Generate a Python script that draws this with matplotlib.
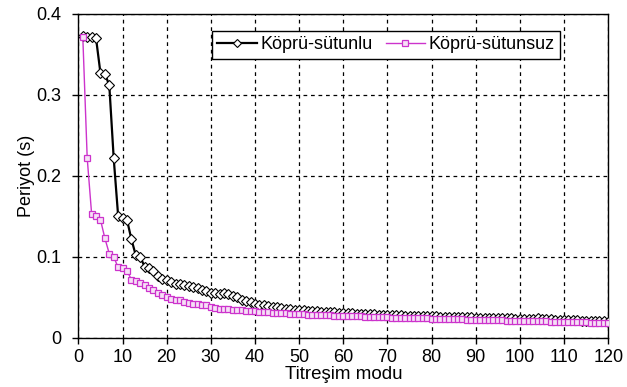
import matplotlib
matplotlib.use("Agg")
import matplotlib.pyplot as plt
import numpy as np

plt.rcParams['font.family'] = ['Liberation Sans', 'DejaVu Sans']

series_names = ["Köprü-sütunlu", "Köprü-sütunsuz"]

kopru_sutunlu = [
    0.373, 0.372, 0.372, 0.370, 0.327, 0.326, 0.312, 0.222, 0.151, 0.148,
    0.146, 0.122, 0.102, 0.100, 0.088, 0.086, 0.082, 0.076, 0.073, 0.071,
    0.069, 0.067, 0.066, 0.065, 0.064, 0.063, 0.061, 0.059, 0.058, 0.056,
    0.055, 0.054, 0.055, 0.054, 0.052, 0.050, 0.047, 0.045, 0.044, 0.042,
    0.041, 0.040, 0.039, 0.038, 0.0375, 0.037, 0.036, 0.0355, 0.035, 0.0346,
    0.034, 0.0336, 0.0332, 0.0328, 0.0325, 0.0322, 0.0318, 0.0315, 0.031, 0.0308,
    0.0305, 0.0302, 0.030, 0.0298, 0.0295, 0.0293, 0.029, 0.0288, 0.0286, 0.0284,
    0.0282, 0.028, 0.0278, 0.0276, 0.0275, 0.0273, 0.0272, 0.027, 0.0268, 0.0266,
    0.0265, 0.0263, 0.0262, 0.026, 0.0258, 0.0256, 0.0255, 0.0253, 0.0252, 0.025,
    0.0249, 0.0247, 0.0246, 0.0244, 0.0243, 0.0242, 0.024, 0.0239, 0.0238, 0.0236,
    0.0235, 0.0234, 0.0233, 0.0245, 0.0232, 0.023, 0.0228, 0.0226, 0.0224, 0.0222,
    0.022, 0.0218, 0.0216, 0.0214, 0.0212, 0.021, 0.0208, 0.0206, 0.0203, 0.020,
]

kopru_sutunsuz = [
    0.372, 0.222, 0.153, 0.150, 0.146, 0.123, 0.104, 0.100, 0.087, 0.086,
    0.083, 0.072, 0.070, 0.068, 0.065, 0.061, 0.059, 0.056, 0.053, 0.050,
    0.048, 0.047, 0.0465, 0.0445, 0.043, 0.042, 0.0415, 0.041, 0.040, 0.038,
    0.037, 0.036, 0.0358, 0.0355, 0.035, 0.0345, 0.034, 0.0335, 0.033, 0.0328,
    0.0325, 0.032, 0.0316, 0.0312, 0.031, 0.0306, 0.0303, 0.030, 0.0297, 0.0294,
    0.029, 0.0288, 0.0286, 0.0284, 0.0282, 0.028, 0.0278, 0.0276, 0.0274, 0.0272,
    0.027, 0.0268, 0.0266, 0.0264, 0.0262, 0.026, 0.0258, 0.0256, 0.0254, 0.0252,
    0.025, 0.0248, 0.0247, 0.0246, 0.0244, 0.0243, 0.0242, 0.024, 0.0239, 0.0238,
    0.0236, 0.0235, 0.0234, 0.0232, 0.0231, 0.023, 0.0228, 0.0226, 0.0224, 0.0222,
    0.022, 0.0219, 0.0218, 0.0217, 0.0216, 0.0215, 0.0214, 0.0212, 0.0211, 0.021,
    0.0208, 0.0207, 0.0206, 0.0204, 0.0203, 0.0202, 0.020, 0.0199, 0.0198, 0.0197,
    0.0196, 0.0194, 0.0193, 0.0192, 0.019, 0.0189, 0.0188, 0.0187, 0.0186, 0.0185,
]

modes = list(range(1, len(kopru_sutunlu) + 1))
x_ticks = list(range(0, 121, 10))
y_ticks = [0, 0.1, 0.2, 0.3, 0.4]
y_tick_labels = ["0", "0.1", "0.2", "0.3", "0.4"]

fig = plt.figure(figsize=(6.27, 3.87), dpi=100)
ax = fig.add_axes([0.125, 0.127, 0.845, 0.837])

magenta = '#CC33CC'
ax.plot(modes, kopru_sutunlu, color='black', lw=1.6, marker='D', markersize=5,
        markerfacecolor='white', markeredgecolor='black', markeredgewidth=0.8,
        label=series_names[0], zorder=3)
ax.plot(modes, kopru_sutunsuz, color=magenta, lw=1.0, marker='s', markersize=5,
        markerfacecolor='#F6E0F6', markeredgecolor=magenta, markeredgewidth=0.9,
        label=series_names[1], zorder=4)

ax.set_xlim(0, 120)
ax.set_ylim(0, 0.4)
ax.set_xticks(x_ticks)
ax.set_yticks(y_ticks)
ax.set_yticklabels(y_tick_labels)
ax.tick_params(direction='out', length=4, width=1, labelsize=13, colors='black')
ax.tick_params(axis='x', pad=4)
ax.tick_params(axis='y', pad=8)
ax.grid(True, color='black', linestyle=(0, (3, 3)), lw=0.9)
for s in ax.spines.values():
    s.set_linewidth(1.0)
    s.set_color('black')

ax.set_xlabel("Titreşim modu", fontsize=13.5, labelpad=0)
ax.set_ylabel("Periyot (s)", fontsize=13, labelpad=1)

leg = ax.legend(loc='upper left', bbox_to_anchor=(0.252, 0.948), ncol=2,
                fontsize=13, frameon=True, fancybox=False, borderaxespad=0,
                handlelength=2.2, handletextpad=0.2, columnspacing=0.7,
                borderpad=0.3, markerscale=0.85, numpoints=1)
leg.get_frame().set_edgecolor('black')
leg.get_frame().set_linewidth(1.0)
leg.get_frame().set_alpha(1)

fig.savefig("out.png", dpi=100)
